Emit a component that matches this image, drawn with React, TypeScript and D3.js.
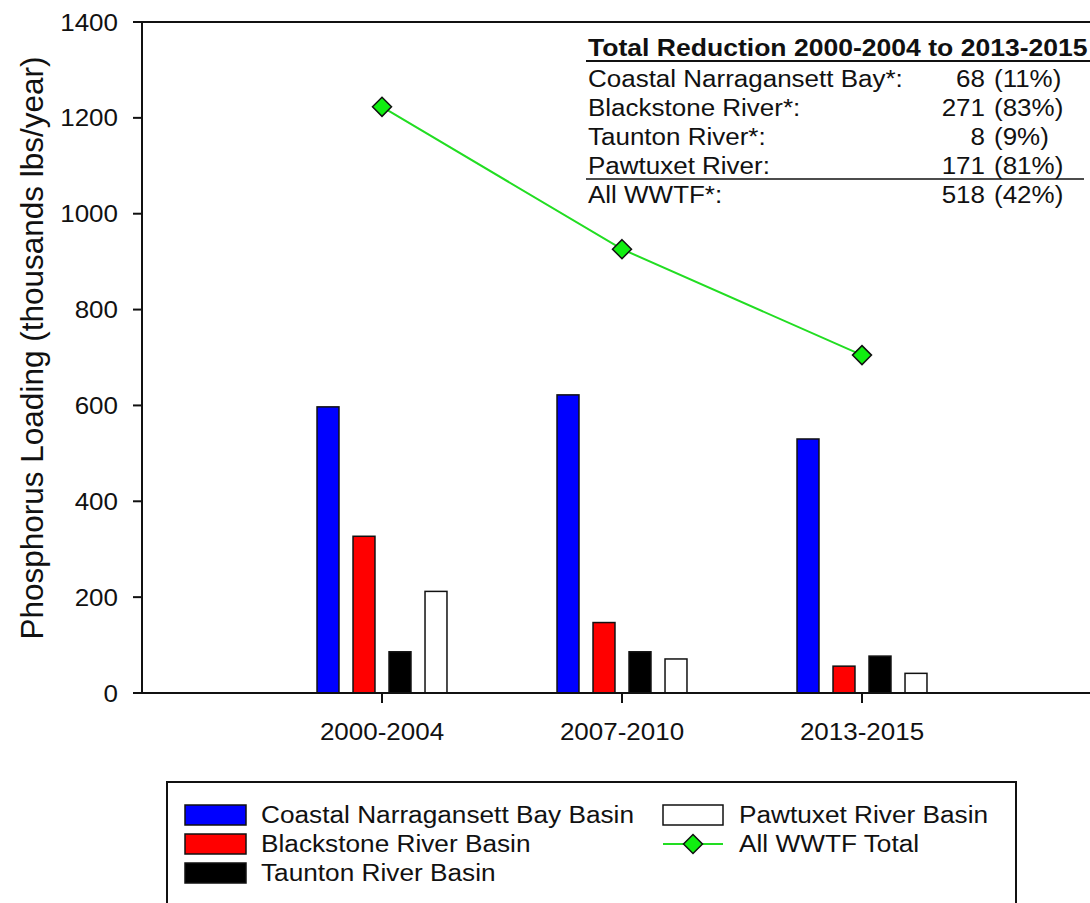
import React from "react";
import * as d3 from "d3";

const periods = ["2000-2004", "2007-2010", "2013-2015"];
const seriesNames = [
  "Coastal Narragansett Bay Basin",
  "Blackstone River Basin",
  "Taunton River Basin",
  "Pawtuxet River Basin",
];
const seriesColors = ["#0000ff", "#ff0000", "#000000", "#ffffff"];
const coastal = [597, 622, 530];
const blackstone = [327, 147, 56];
const taunton = [86, 86, 77];
const pawtuxet = [212, 71, 41];
const wwtfTotal = [1223, 926, 705];
const yTicks = [0, 200, 400, 600, 800, 1000, 1200, 1400];

const tableHeader = "Total Reduction 2000-2004 to 2013-2015";
const tableLabels = [
  "Coastal Narragansett Bay*:",
  "Blackstone River*:",
  "Taunton River*:",
  "Pawtuxet River:",
  "All WWTF*:",
];
const tableAmounts = ["68", "271", "8", "171", "518"];
const tablePercents = ["(11%)", "(83%)", "(9%)", "(81%)", "(42%)"];

const FONT = "Arial, 'Liberation Sans', sans-serif";
const SX = 1.13;

function T(props: {
  x: number;
  y: number;
  size: number;
  anchor?: string;
  bold?: boolean;
  children: React.ReactNode;
}) {
  const { x, y, size, anchor = "start", bold = false, children } = props;
  return (
    <text
      transform={`translate(${x},${y}) scale(${SX},1)`}
      fontSize={size}
      fontFamily={FONT}
      textAnchor={anchor}
      fontWeight={bold ? "bold" : "normal"}
      fill="#111"
    >
      {children}
    </text>
  );
}

export default function App() {
  const W = 1090;
  const H = 903;
  const x = d3.scaleLinear().domain([0, 4]).range([142, 1102]);
  const y = d3.scaleLinear().domain([0, 1400]).range([693, 22]);
  const inner = d3
    .scaleBand<string>()
    .domain(seriesNames)
    .range([-72, 72])
    .paddingInner(0.39)
    .paddingOuter(0.195);
  const seriesData = [coastal, blackstone, taunton, pawtuxet];

  const line = d3
    .line<number>()
    .x((_, i) => x(i + 1))
    .y((d) => y(d));

  const diamond = (cx: number, cy: number, r: number) =>
    `M${cx},${cy - r}L${cx + r},${cy}L${cx},${cy + r}L${cx - r},${cy}Z`;

  const tableX = 588;
  const rowBase = [87, 116, 145, 174, 203];

  const legendRows = [823, 852, 881];

  return (
    <svg
      width={W}
      height={H}
      style={{ position: "absolute", left: 0, top: 0, background: "#fff" }}
    >
      <rect x={0} y={0} width={W} height={H} fill="#fff" />
      {/* bars */}
      {seriesData.map((vals, si) =>
        vals.map((v, ci) => (
          <rect
            key={`b${si}-${ci}`}
            x={x(ci + 1) + (inner(seriesNames[si]) as number)}
            y={y(v)}
            width={inner.bandwidth()}
            height={y(0) - y(v)}
            fill={seriesColors[si]}
            stroke="#111"
            strokeWidth={1.5}
          />
        ))
      )}
      {/* axes */}
      <line x1={133} x2={W} y1={y(1400)} y2={y(1400)} stroke="#111" strokeWidth={2} />
      <line x1={133} x2={W} y1={y(0)} y2={y(0)} stroke="#111" strokeWidth={2} />
      <line x1={x(0)} x2={x(0)} y1={y(1400)} y2={y(0)} stroke="#111" strokeWidth={2} />
      {yTicks.map((t) => (
        <g key={`yt${t}`}>
          <line x1={133} x2={x(0)} y1={y(t)} y2={y(t)} stroke="#111" strokeWidth={2} />
          <T x={118} y={y(t) + 8.5} size={23} anchor="end">
            {t}
          </T>
        </g>
      ))}
      {periods.map((p, i) => (
        <g key={`xt${p}`}>
          <line x1={x(i + 1)} x2={x(i + 1)} y1={y(0)} y2={y(0) + 10} stroke="#111" strokeWidth={2} />
          <T x={x(i + 1)} y={740} size={23} anchor="middle">
            {p}
          </T>
        </g>
      ))}
      <text
        transform={`translate(43,348) rotate(-90)`}
        fontSize={31.5}
        fontFamily={FONT}
        textAnchor="middle"
        fill="#111"
      >
        Phosphorus Loading (thousands lbs/year)
      </text>
      {/* line */}
      <path d={line(wwtfTotal) || ""} fill="none" stroke="#22dd22" strokeWidth={2} />
      {wwtfTotal.map((v, i) => (
        <path
          key={`m${i}`}
          d={diamond(x(i + 1), y(v), 9.5)}
          fill="#11ee11"
          stroke="#111"
          strokeWidth={1.5}
        />
      ))}
      {/* table */}
      <T x={tableX} y={56} size={23.5} bold>
        {tableHeader}
      </T>
      <line x1={586} x2={1090} y1={61} y2={61} stroke="#111" strokeWidth={2} />
      {tableLabels.map((l, i) => (
        <g key={`tr${i}`}>
          <T x={tableX} y={rowBase[i]} size={23}>
            {l}
          </T>
          <T x={985} y={rowBase[i]} size={23} anchor="end">
            {tableAmounts[i]}
          </T>
          <T x={994} y={rowBase[i]} size={23}>
            {tablePercents[i]}
          </T>
        </g>
      ))}
      <line x1={586} x2={1084} y1={179} y2={179} stroke="#111" strokeWidth={1.5} />
      {/* legend */}
      <rect x={167} y={782} width={849} height={140} fill="none" stroke="#111" strokeWidth={2} />
      {seriesNames.slice(0, 3).map((n, i) => (
        <g key={`lg${i}`}>
          <rect
            x={185}
            y={legendRows[i] - 18}
            width={61}
            height={20}
            fill={seriesColors[i]}
            stroke="#111"
            strokeWidth={1.5}
          />
          <T x={261} y={legendRows[i]} size={23.2}>
            {n}
          </T>
        </g>
      ))}
      <rect
        x={663}
        y={legendRows[0] - 18}
        width={60}
        height={20}
        fill={seriesColors[3]}
        stroke="#111"
        strokeWidth={1.5}
      />
      <T x={739} y={legendRows[0]} size={23.2}>
        {seriesNames[3]}
      </T>
      <line x1={663} x2={723} y1={legendRows[1] - 8} y2={legendRows[1] - 8} stroke="#22dd22" strokeWidth={2} />
      <path d={diamond(693, legendRows[1] - 8, 9.5)} fill="#11ee11" stroke="#111" strokeWidth={1.5} />
      <T x={739} y={legendRows[1]} size={23.2}>
        All WWTF Total
      </T>
    </svg>
  );
}
